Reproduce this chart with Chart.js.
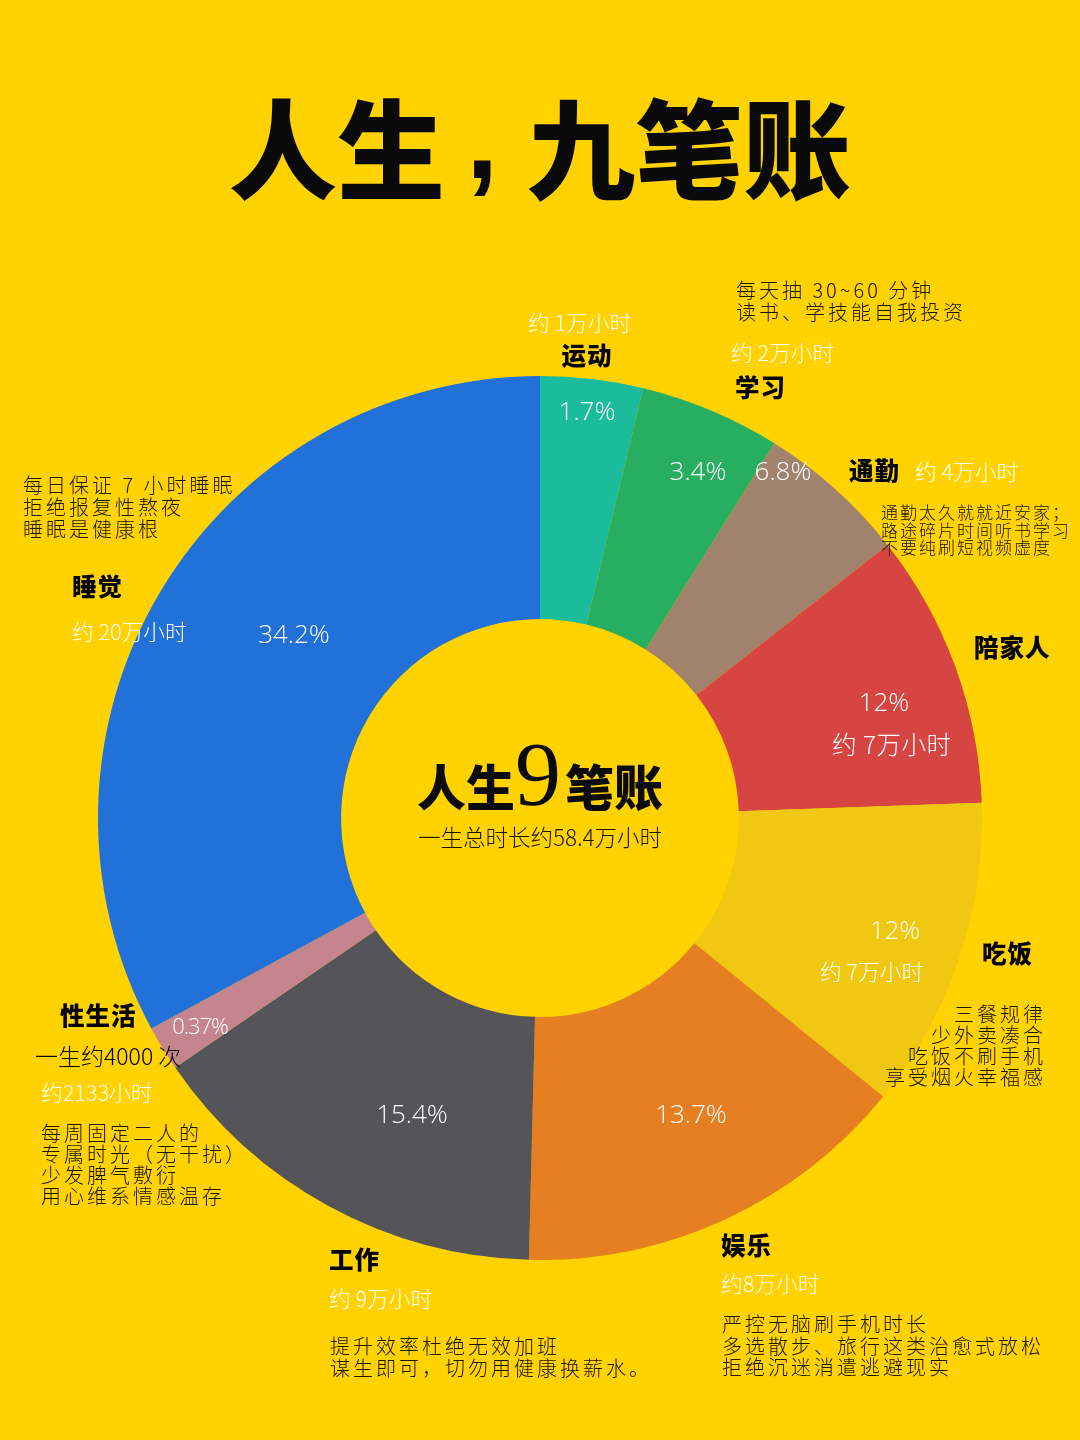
<!DOCTYPE html>
<html lang="zh">
<head>
<meta charset="utf-8">
<title>人生，九笔账</title>
<script src="https://cdn.jsdelivr.net/npm/chart.js@4"></script>
<style>
    html, body { margin: 0; padding: 0; background: #FFD200; }
    #page { position: relative; width: 1080px; height: 1440px; overflow: hidden; background: #FFD200; font-family: "Noto Sans CJK SC", sans-serif; }
    #pie { position: absolute; left: 0; top: 0; width: 1080px; height: 1440px; }
    .t { position: absolute; white-space: pre; line-height: 1; transform: translateY(calc(-50% - 1px)); }
    .c { transform: translate(-50%, calc(-50% - 1px)); }
    .r { transform: translate(-100%, calc(-50% - 1px)); }
    .name { font-size: 24.5px; font-weight: 900; color: #000; letter-spacing: 1px; }
    .hours { font-size: 21.7px; font-weight: 300; color: #fff; }
    .big { font-size: 24.5px; letter-spacing: 0.5px; }
    .pct { font-family: "Open Sans", "Noto Sans", sans-serif; font-size: 26px; font-weight: 300; color: #fff; }
    .small { font-size: 22px; letter-spacing: -1px; }
    .note { font-size: 20px; font-weight: 300; color: #1a1400; letter-spacing: 3px; }
    .tiny { font-size: 17px; letter-spacing: 2px; }
    .black { font-size: 23px; font-weight: 300; color: #000; }
    .title { font-size: 108px; font-weight: 900; color: #0a0a0a; }
    .comma { font-family: "Liberation Sans", sans-serif; font-size: 116px; font-weight: 700; color: #0a0a0a; }
    .hub { font-size: 49px; font-weight: 900; color: #0a0a0a; }
    .nine { font-family: "Liberation Serif", serif; font-size: 92px; font-weight: 400; color: #0a0a0a; }
    .sub { font-size: 22.5px; font-weight: 300; color: #1a1400; }
</style>
</head>
<body>
<div id="page">
    <canvas id="pie" width="1080" height="1440"></canvas>
</div>
<script>
// clockwise from 12 o'clock
const categories = ['运动', '学习', '通勤', '陪家人', '吃饭', '娱乐', '工作', '性生活', '睡觉'];
// share of the circle each slice really takes in the picture (not the printed %)
const sliceShare = [3.75, 5.15, 5.5, 10.05, 11.4, 14.55, 15.05, 1.65, 32.9];
const percentLabels = ['1.7%', '3.4%', '6.8%', '12%', '12%', '13.7%', '15.4%', '0.37%', '34.2%'];
const hourLabels = ['约 1万小时', '约 2万小时', '约 4万小时', '约 7万小时', '约 7万小时', '约8万小时', '约 9万小时', '约2133小时', '约 20万小时'];
const sliceColors = ['#1ABC9C', '#27AE60', '#A0826D', '#D64541', '#F0C711', '#E67E22', '#555459', '#C4858F', '#2271D8'];

const notes = [
    [],
    ['每天抽 30~60 分钟', '读书、学技能自我投资'],
    ['通勤太久就就近安家；', '路途碎片时间听书学习', '不要纯刷短视频虚度'],
    [],
    ['三餐规律', '少外卖凑合', '吃饭不刷手机', '享受烟火幸福感'],
    ['严控无脑刷手机时长', '多选散步、旅行这类治愈式放松', '拒绝沉迷消遣逃避现实'],
    ['提升效率杜绝无效加班', '谋生即可，切勿用健康换薪水。'],
    ['每周固定二人的', '专属时光（无干扰）', '少发脾气敷衍', '用心维系情感温存'],
    ['每日保证 7 小时睡眠', '拒绝报复性熬夜', '睡眠是健康根']
];

// where the texts sit: [x, y] by category index, y is the middle of the line
const namePos = [[587, 356, 'c'], [735, 388], [849, 471], [974, 648], [982, 954], [721, 1246], [329, 1260], [60, 1016], [72, 587]];
const hourPos = [[528, 323], [731, 353], [915, 472], [832, 745], [820, 972], [721, 1284], [329, 1299], [41, 1093], [72, 632]];
const pctPos = [[587, 411], [698, 471], [783, 471], [884, 702], [895, 930], [691, 1114], [412, 1114], [200, 1026], [294, 634]];
const notePos = [null, [736, 291, 22], [881, 512, 17.7], null, [1046, 1015, 21], [722, 1325, 21.5], [330, 1347, 21.5], [41, 1134, 21], [23, 486, 22]];

const page = document.getElementById('page');

function addText(text, x, y, cls) {
    const el = document.createElement('div');
    el.className = 't ' + cls;
    el.textContent = text;
    el.style.left = x + 'px';
    el.style.top = y + 'px';
    page.appendChild(el);
    return el;
}

new Chart(document.getElementById('pie'), {
    type: 'doughnut',
    data: {
        labels: categories,
        datasets: [{
            data: sliceShare,
            backgroundColor: sliceColors,
            borderWidth: 0
        }]
    },
    options: {
        responsive: false,
        animation: false,
        cutout: '45%',
        layout: { padding: { left: 98, right: 98, top: 376, bottom: 180 } },
        plugins: { legend: { display: false }, tooltip: { enabled: false } }
    }
});

// title and centre text
addText('人生', 229, 145, 'title');
addText(',', 466, 139, 'comma');
addText('九笔账', 851, 145, 'title r');
addText('人生', 417, 785, 'hub');
addText('9', 538, 775, 'nine c');
addText('笔账', 565, 785, 'hub');
addText('一生总时长约58.4万小时', 540, 837, 'sub c');

categories.forEach((name, i) => {
    const np = namePos[i];
    addText(name, np[0], np[1], 'name' + (np[2] ? ' ' + np[2] : ''));

    const big = i === 3;
    addText(hourLabels[i], hourPos[i][0], hourPos[i][1], 'hours' + (big ? ' big' : ''));

    addText(percentLabels[i], pctPos[i][0], pctPos[i][1], 'pct c' + (i === 7 ? ' small' : ''));

    const np2 = notePos[i];
    if (np2) {
        notes[i].forEach((line, k) => {
            const y = np2[1] + k * np2[2];
            let cls = 'note';
            if (i === 2) cls += ' tiny';
            if (i === 4) cls += ' r';
            addText(line, np2[0], y, cls);
        });
    }
});

addText('一生约4000 次', 35, 1056, 'black');
</script>
</body>
</html>
